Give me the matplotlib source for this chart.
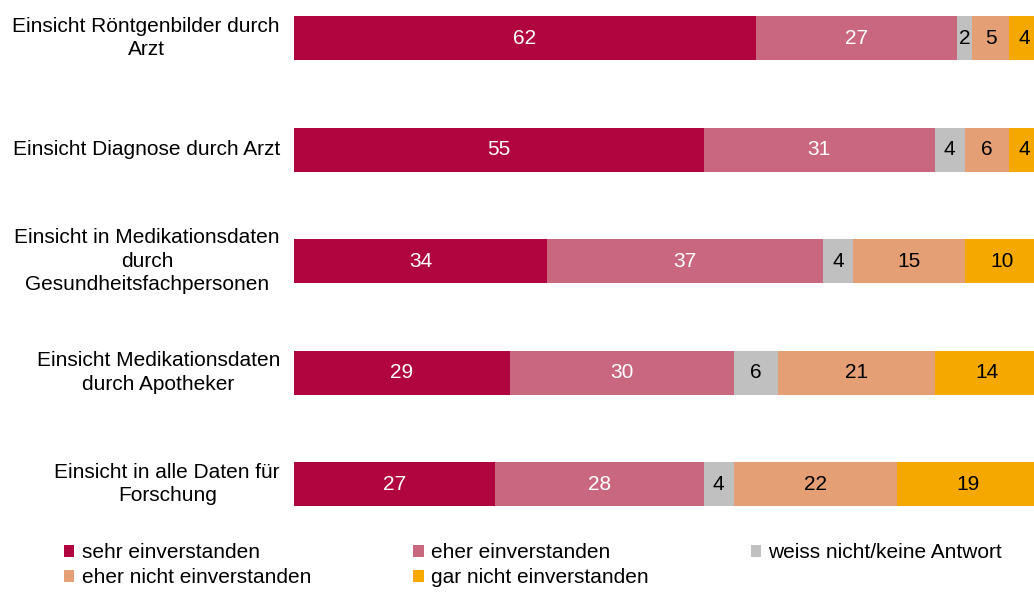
import matplotlib
matplotlib.use('Agg')
from matplotlib import pyplot as plt
from matplotlib.patches import Patch
import numpy as np

plt.rcParams['font.family'] = ['Liberation Sans', 'DejaVu Sans']

categories = ['Einsicht Röntgenbilder durch\nArzt',
              'Einsicht Diagnose durch Arzt',
              'Einsicht in Medikationsdaten\ndurch\nGesundheitsfachpersonen',
              'Einsicht Medikationsdaten\ndurch Apotheker',
              'Einsicht in alle Daten für\nForschung']
series = ['sehr einverstanden', 'eher einverstanden', 'weiss nicht/keine Antwort',
          'eher nicht einverstanden', 'gar nicht einverstanden']
sehr = [62, 55, 34, 29, 27]
eher = [27, 31, 37, 30, 28]
weiss = [2, 4, 4, 6, 4]
eher_nicht = [5, 6, 15, 21, 22]
gar_nicht = [4, 4, 10, 14, 19]

colors = ['#B0053F', '#C9677F', '#C0C0C0', '#E49F74', '#F5A800']
text_colors = ['white', 'white', 'black', 'black', 'black']

W, H = 1034, 593
fig = plt.figure(figsize=(W / 100, H / 100), dpi=100)
ax = fig.add_axes([294 / W, 1 - 540 / H, 745 / W, 540 / H])

ind = np.arange(len(categories))
left = np.zeros(len(categories))
for vals, color, tc in zip([sehr, eher, weiss, eher_nicht, gar_nicht], colors, text_colors):
    vals = np.array(vals, dtype=float)
    ax.barh(ind, vals, height=0.395, left=left, color=color, linewidth=0)
    for y, l, v in zip(ind, left, vals):
        ax.text(l + v / 2, y, '%d' % v, ha='center', va='center', color=tc,
                fontsize=15, clip_on=False)
    left += vals

ax.set_xlim(0, 100)
ax.set_ylim(4.502, -0.341)
ax.axis('off')

# category labels: right aligned next to the bars, lines centered
for y, lab in zip(ind, categories):
    ax.annotate(lab, xy=(0, y), xycoords='data', xytext=(-14, 0),
                textcoords='offset pixels', ha='right', va='center',
                multialignment='center', fontsize=15, linespacing=1.28)

handles = [Patch(facecolor=c, edgecolor='none') for c in colors]
order = [0, 3, 1, 4, 2]
fig.legend([handles[i] for i in order], [series[i] for i in order],
           loc='upper left', bbox_to_anchor=(64 / W, 1 - 543 / H), ncol=3,
           frameon=False, fontsize=15, handlelength=0.5, handleheight=0.5,
           handletextpad=0.35, columnspacing=4.9, labelspacing=0.3,
           borderpad=0, borderaxespad=0)

plt.savefig('out.png', dpi=100)
